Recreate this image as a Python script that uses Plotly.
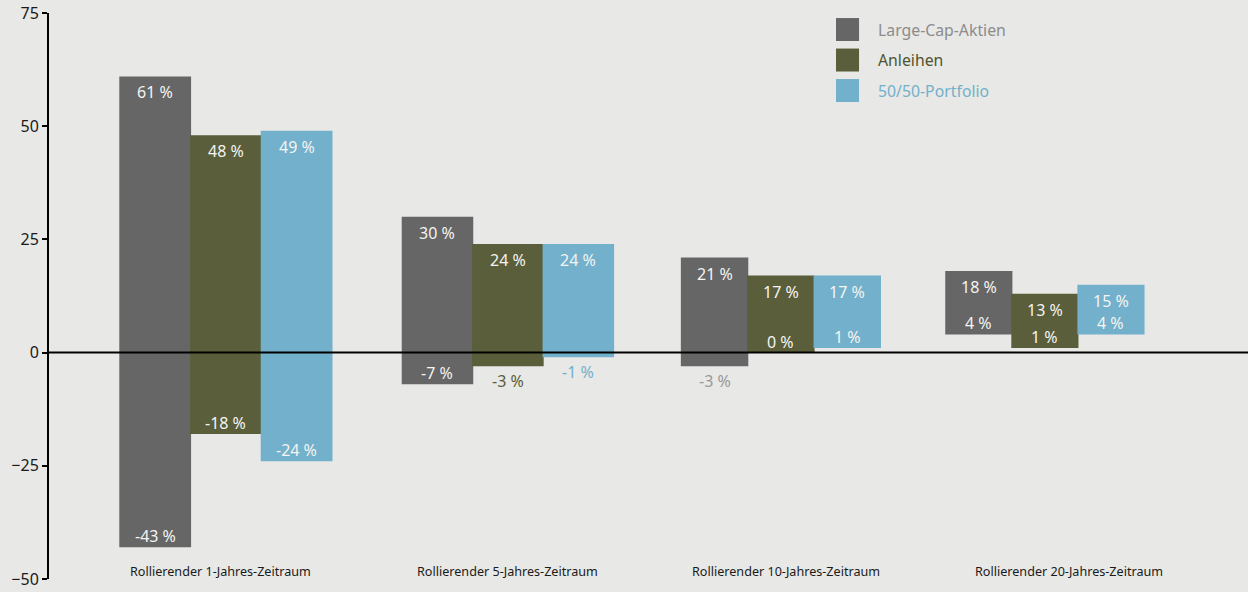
import plotly.graph_objects as go

# Rolling-period return ranges (min / max, in %)
periods = ["Rollierender 1-Jahres-Zeitraum", "Rollierender 5-Jahres-Zeitraum",
           "Rollierender 10-Jahres-Zeitraum", "Rollierender 20-Jahres-Zeitraum"]
series = ["Large-Cap-Aktien", "Anleihen", "50/50-Portfolio"]
max_large = [61, 30, 21, 18]
min_large = [-43, -7, -3, 4]
max_bonds = [48, 24, 17, 13]
min_bonds = [-18, -3, 0, 1]
max_mix = [49, 24, 17, 15]
min_mix = [-24, -1, 1, 4]
y_ticks = [-50, -25, 0, 25, 50, 75]

maxima = [max_large, max_bonds, max_mix]
minima = [min_large, min_bonds, min_mix]

# layout: group centres, bar widths and category-label centres on the x axis
group_pos = [0.0, 1.033, 2.033, 3.0]
bar_width = [0.259, 0.258, 0.243, 0.242]
label_pos = [-0.018, 1.033, 2.051, 3.088]
seam = 0.004  # slight overlap so adjacent bars join without a hairline

bar_colors = ["#666666", "#5a5e3a", "#72b0cb"]
legend_text_colors = ["#8c8c8c", "#4f5430", "#72b0cb"]
outside_label_colors = ["#999999", "#5a5e3a", "#72b0cb"]

BG = "#e8e8e6"
FONT = "Noto Sans"
LABEL_WHITE = "#f4f4f2"

fig = go.Figure()
annotations = []

for j, name in enumerate(series):
    xs = [g + (j - 1) * w for g, w in zip(group_pos, bar_width)]
    fig.add_trace(go.Bar(
        x=xs,
        y=[hi - lo for hi, lo in zip(maxima[j], minima[j])],
        base=minima[j],
        width=[w + seam for w in bar_width],
        marker=dict(color=bar_colors[j], line=dict(width=0)),
        name=name,
        showlegend=False,
        hoverinfo="skip",
    ))
    for x, hi, lo in zip(xs, maxima[j], minima[j]):
        # upper value sits inside the top of the bar
        annotations.append(dict(
            x=x, y=hi, xref="x", yref="y", text=f"{hi} %", showarrow=False,
            yanchor="middle", yshift=-16,
            font=dict(family=FONT, size=16, color=LABEL_WHITE)))
        # lower value: inside unless the bar only dips slightly below zero
        if -5 < lo < 0:
            annotations.append(dict(
                x=x, y=lo, xref="x", yref="y", text=f"{lo} %", showarrow=False,
                yanchor="middle", yshift=-15,
                font=dict(family=FONT, size=16, color=outside_label_colors[j])))
        else:
            annotations.append(dict(
                x=x, y=lo, xref="x", yref="y", text=f"{lo} %", showarrow=False,
                yanchor="middle", yshift=11,
                font=dict(family=FONT, size=16, color=LABEL_WHITE)))

# category labels along the bottom
for p, xp in zip(periods, label_pos):
    annotations.append(dict(
        x=xp, y=-48.3, xref="x", yref="y", text=p, showarrow=False,
        yanchor="middle", font=dict(family=FONT, size=12.6, color="#1a1a1a")))

# custom legend
shapes = []
for j, name in enumerate(series):
    yc = 0.9708 - j * 0.0539
    shapes.append(dict(type="rect", xref="paper", yref="paper",
                       x0=0.6564, x1=0.6756, y0=yc - 0.0203, y1=yc + 0.0203,
                       fillcolor=bar_colors[j], line=dict(width=0)))
    annotations.append(dict(
        x=0.6895, y=yc, xref="paper", yref="paper", text=name, showarrow=False,
        xanchor="left", yanchor="middle",
        font=dict(family=FONT, size=15.8, color=legend_text_colors[j])))

# zero line drawn over the bars
shapes.append(dict(type="line", xref="paper", yref="y", x0=0, x1=1, y0=0, y1=0,
                   line=dict(color="black", width=2), layer="above"))

fig.update_layout(
    width=1248, height=592,
    margin=dict(l=49, r=0, t=13, b=13),
    paper_bgcolor=BG, plot_bgcolor=BG,
    barmode="overlay",
    showlegend=False,
    annotations=annotations,
    shapes=shapes,
    xaxis=dict(range=[-0.648, 3.744], showticklabels=False, showgrid=False,
               zeroline=False, showline=False, ticks=""),
    yaxis=dict(range=[-50, 75], tickvals=y_ticks, showgrid=False, zeroline=False,
               showline=True, linecolor="black", linewidth=2,
               ticks="outside", ticklen=5, tickwidth=2, tickcolor="black",
               tickfont=dict(family=FONT, size=16, color="#1a1a1a")),
)

fig.write_html("out.html")
